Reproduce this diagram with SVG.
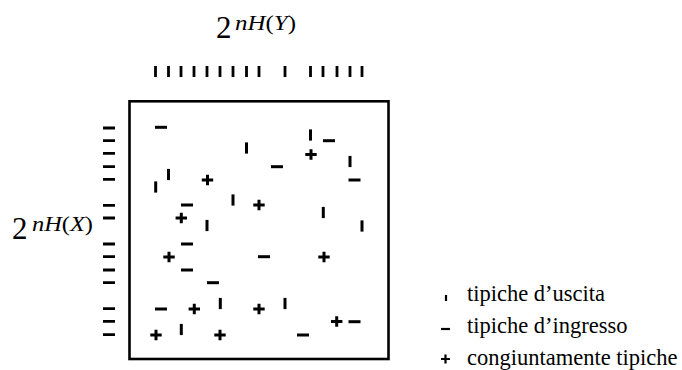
<svg xmlns="http://www.w3.org/2000/svg" xmlns:xlink="http://www.w3.org/1999/xlink" width="682" height="370" viewBox="0 0 682 370">
<style>
.sym{fill:none;stroke:#000;stroke-width:3;stroke-linecap:butt}
.lsym{fill:none;stroke:#000;stroke-width:2.2}
.box{fill:none;stroke:#000;stroke-width:2.6}
.tk{fill:none;stroke:#000;stroke-width:2.8}
.serif{font-family:"Times New Roman",Times,"Liberation Serif","Nimbus Roman","DejaVu Serif",serif;fill:#000}
</style>
<defs>
<path id="v" class="sym" d="M0,-5.6V5.6"/>
<path id="d" class="sym" d="M-6,0H6"/>
<path id="p" class="sym" d="M-5.7,0H5.7M0,-5.3V5.3"/>
</defs>
<rect id="matrix" class="box" x="129.5" y="101.3" width="259" height="257.7"/>
<g id="labelY" class="serif">
<text x="216" y="38" font-size="31">2</text>
<text x="235" y="30" font-size="22" textLength="61" lengthAdjust="spacingAndGlyphs"><tspan font-style="italic">nH</tspan>(<tspan font-style="italic">Y</tspan>)</text>
</g>
<g id="labelX" class="serif">
<text x="12" y="239" font-size="31">2</text>
<text x="32" y="231" font-size="22" textLength="61" lengthAdjust="spacingAndGlyphs"><tspan font-style="italic">nH</tspan>(<tspan font-style="italic">X</tspan>)</text>
</g>
<g id="topTicks" class="tk">
<path d="M155.5,66V77M168.5,66V77M181,66V77M194,66V77M207,66V77M220,66V77M233,66V77M246.5,66V77M259,66V77M285,66V77M310.5,66V77M323,66V77M337,66V77M350,66V77M362,66V77"/>
</g>
<g id="leftTicks" class="tk">
<path d="M103,128H115M103,140.7H115M103,153.3H115M103,166.7H115M103,179.3H115M103,205.3H115M103,218H115M103,244H115M103,256.7H115M103,270H115M103,282.7H115M103,308.7H115M103,321.3H115M103,334.7H115"/>
</g>
<g id="outputs">
<use xlink:href="#v" x="246.5" y="148"/>
<use xlink:href="#v" x="310.5" y="135"/>
<use xlink:href="#v" x="350" y="161.5"/>
<use xlink:href="#v" x="168.5" y="174.5"/>
<use xlink:href="#v" x="155.7" y="187"/>
<use xlink:href="#v" x="233" y="200"/>
<use xlink:href="#v" x="323.3" y="212.5"/>
<use xlink:href="#v" x="207" y="225.5"/>
<use xlink:href="#v" x="362" y="226"/>
<use xlink:href="#v" x="220.3" y="303.5"/>
<use xlink:href="#v" x="285" y="303.5"/>
<use xlink:href="#v" x="181.3" y="329.5"/>
</g>
<g id="inputs">
<use xlink:href="#d" x="161" y="127.3"/>
<use xlink:href="#d" x="329" y="140.7"/>
<use xlink:href="#d" x="277" y="166.7"/>
<use xlink:href="#d" x="354.5" y="180"/>
<use xlink:href="#d" x="187" y="205"/>
<use xlink:href="#d" x="187" y="244"/>
<use xlink:href="#d" x="187" y="270"/>
<use xlink:href="#d" x="213" y="282.7"/>
<use xlink:href="#d" x="161" y="309"/>
<use xlink:href="#d" x="264" y="256.7"/>
<use xlink:href="#d" x="354.5" y="321.7"/>
<use xlink:href="#d" x="303" y="335"/>
</g>
<g id="joint">
<use xlink:href="#p" x="207.5" y="180"/>
<use xlink:href="#p" x="311" y="154.5"/>
<use xlink:href="#p" x="259" y="205"/>
<use xlink:href="#p" x="181.3" y="218"/>
<use xlink:href="#p" x="169" y="257"/>
<use xlink:href="#p" x="324" y="257"/>
<use xlink:href="#p" x="194.3" y="309"/>
<use xlink:href="#p" x="259" y="309"/>
<use xlink:href="#p" x="336.7" y="321.5"/>
<use xlink:href="#p" x="156" y="335"/>
<use xlink:href="#p" x="220" y="335"/>
</g>
<g id="legend" class="serif" font-size="22.5">
<path class="lsym" d="M446,295V301"/>
<text x="467" y="300.5">tipiche d’uscita</text>
<path class="lsym" d="M441,329H450"/>
<text x="467" y="333">tipiche d’ingresso</text>
<path class="lsym" d="M441,359H450M445.5,354.5V363.5"/>
<text x="467" y="365">congiuntamente tipiche</text>
</g>
</svg>
